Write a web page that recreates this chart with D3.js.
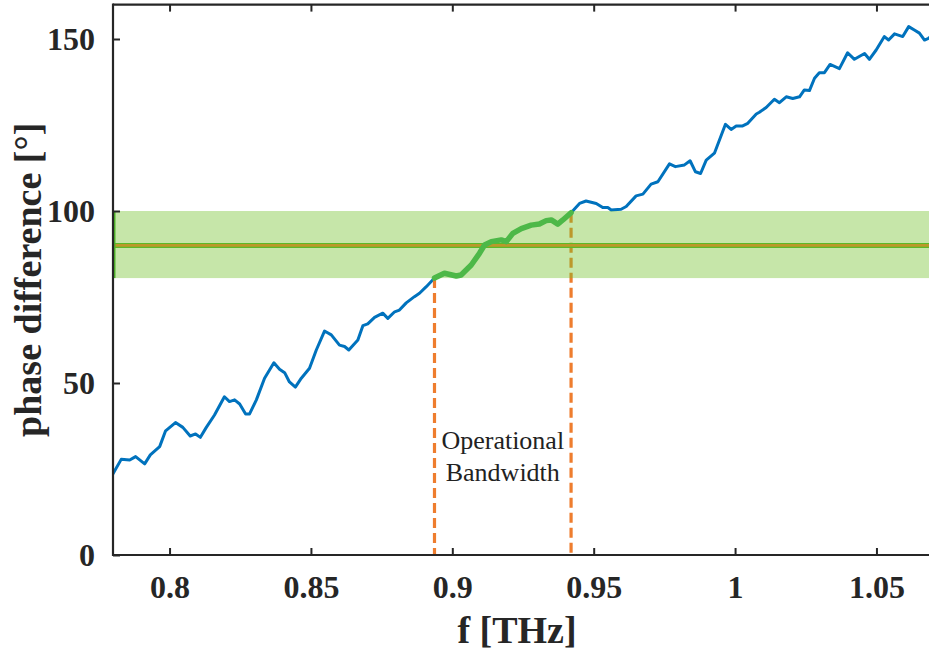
<!DOCTYPE html>
<html>
<head>
<meta charset="utf-8">
<script src="https://cdn.jsdelivr.net/npm/d3@7"></script>
<style>
  html, body { margin: 0; padding: 0; background: #fff; }
  svg { display: block; }
</style>
</head>
<body>
<svg id="chart" width="929" height="654"></svg>
<script>
// Phase difference vs frequency
const freq = [
  0.7798, 0.7829, 0.7859, 0.7880, 0.7912, 0.7932, 0.7965, 0.7986, 0.8021, 0.8047,
  0.8073, 0.8092, 0.8109, 0.8130, 0.8159, 0.8194, 0.8212, 0.8230, 0.8248, 0.8269,
  0.8283, 0.8307, 0.8336, 0.8369, 0.8389, 0.8407, 0.8424, 0.8445, 0.8466, 0.8495,
  0.8519, 0.8548, 0.8572, 0.8601, 0.8619, 0.8634, 0.8666, 0.8684, 0.8701, 0.8725,
  0.8754, 0.8772, 0.8796, 0.8813, 0.8837, 0.8866, 0.8884, 0.8908, 0.8937,
  0.8972, 0.9014, 0.9031, 0.9067, 0.9096, 0.9114, 0.9138, 0.9173, 0.9191, 0.9214,
  0.9244, 0.9279, 0.9308, 0.9332, 0.9350, 0.9373, 0.9391, 0.9420,
  0.9450, 0.9473, 0.9509, 0.9532, 0.9550, 0.9562, 0.9597, 0.9615, 0.9650, 0.9674,
  0.9703, 0.9727, 0.9768, 0.9789, 0.9821, 0.9841, 0.9860, 0.9878, 0.9898, 0.9927,
  0.9966, 0.9986, 1.0004, 1.0025, 1.0045, 1.0075, 1.0086, 1.0110, 1.0139, 1.0157,
  1.0181, 1.0204, 1.0228, 1.0245, 1.0263, 1.0281, 1.0298, 1.0316, 1.0336, 1.0369,
  1.0398, 1.0422, 1.0458, 1.0475, 1.0499, 1.0528, 1.0543, 1.0564, 1.0593, 1.0614,
  1.0634, 1.0652, 1.0670, 1.0684, 1.0700
];
const phase = [
  23.3, 27.8, 27.6, 28.6, 26.5, 29.1, 31.5, 36.1, 38.5, 37.1,
  34.6, 35.2, 34.2, 37.1, 40.7, 46.0, 44.6, 45.1, 43.9, 41.0,
  41.0, 45.1, 51.4, 55.9, 54.0, 53.0, 50.3, 48.8, 51.4, 54.3,
  59.6, 65.1, 64.0, 61.0, 60.6, 59.6, 62.5, 66.7, 67.2, 69.1,
  70.3, 68.8, 70.7, 71.2, 73.3, 75.1, 76.1, 78.0, 80.5,
  81.9, 81.1, 81.4, 84.3, 87.7, 90.1, 91.1, 91.6, 91.1, 93.5,
  94.9, 95.9, 96.2, 97.2, 97.4, 96.2, 97.4, 99.5,
  102.2, 102.9, 102.2, 101.0, 101.0, 100.3, 100.5, 101.3, 104.4, 104.9,
  107.8, 108.5, 113.7, 112.9, 113.4, 114.6, 111.4, 110.9, 114.8, 116.8,
  125.2, 123.7, 124.7, 124.7, 125.5, 128.2, 128.7, 130.1, 132.5, 131.5,
  133.2, 132.7, 133.2, 135.2, 135.0, 138.6, 140.2, 140.2, 142.6, 141.4,
  146.0, 144.1, 145.8, 144.1, 146.8, 150.7, 149.7, 151.5, 150.7, 153.6,
  152.6, 151.7, 149.7, 150.2, 151.2
];

// Operational band limits and target phase
const bandLow = 80.5;
const bandHigh = 100;
const targetPhase = 90;
const bandStart = 0.8937;
const bandEnd = 0.9420;

const xTicks = [0.8, 0.85, 0.9, 0.95, 1, 1.05];
const xTickLabels = ["0.8", "0.85", "0.9", "0.95", "1", "1.05"];
const yTicks = [0, 50, 100, 150];
const yTickLabels = ["0", "50", "100", "150"];

const svg = d3.select("#chart");
const plotLeft = 113, plotRight = 933, plotTop = 4.6, plotBottom = 555;

const x = d3.scaleLinear().domain([0.78, 1.07]).range([plotLeft, plotRight]);
const y = d3.scaleLinear().domain([0, 160]).range([plotBottom, plotTop]);

svg.append("defs").append("clipPath").attr("id", "plotclip")
  .append("rect").attr("x", plotLeft).attr("y", plotTop)
  .attr("width", plotRight - plotLeft).attr("height", plotBottom - plotTop);

const plot = svg.append("g").attr("clip-path", "url(#plotclip)");

const pts = freq.map((f, i) => ({ f, v: phase[i] }));
const line = d3.line().x(d => x(d.f)).y(d => y(d.v)).curve(d3.curveLinear);

// full response curve
plot.append("path").datum(pts)
  .attr("d", line)
  .attr("fill", "none")
  .attr("stroke", "#0072BD")
  .attr("stroke-width", 3)
  .attr("stroke-linejoin", "round");

// vertical markers at the band edges
const valueAt = f => {
  const i = freq.findIndex(v => Math.abs(v - f) < 1e-6);
  return i >= 0 ? phase[i] : bandHigh;
};
plot.selectAll("line.edge").data([bandStart, bandEnd]).enter()
  .append("line").attr("class", "edge")
  .attr("x1", d => x(d)).attr("x2", d => x(d))
  .attr("y1", d => y(Math.min(valueAt(d), bandHigh))).attr("y2", y(0))
  .attr("stroke", "#EE7D2E")
  .attr("stroke-width", 3.2)
  .attr("stroke-dasharray", "10,5");

// target phase line
plot.append("line")
  .attr("x1", x(0.78)).attr("x2", x(1.07))
  .attr("y1", y(targetPhase)).attr("y2", y(targetPhase))
  .attr("stroke", "#4FB52A").attr("stroke-width", 5);
plot.append("line")
  .attr("x1", x(0.78)).attr("x2", x(1.07))
  .attr("y1", y(targetPhase)).attr("y2", y(targetPhase))
  .attr("stroke", "#EE7D2E").attr("stroke-width", 2.6);

// tolerance band
plot.append("rect")
  .attr("x", x(0.78)).attr("width", x(1.07) - x(0.78))
  .attr("y", y(bandHigh)).attr("height", y(bandLow) - y(bandHigh))
  .attr("fill", "rgb(112,192,40)").attr("fill-opacity", 0.4);
plot.append("line")
  .attr("x1", x(0.78) + 1.5).attr("x2", x(0.78) + 1.5)
  .attr("y1", y(bandHigh)).attr("y2", y(bandLow))
  .attr("stroke", "#4FB52A").attr("stroke-width", 2);

// in-band part of the curve
const inBand = pts.filter(d => d.f >= bandStart - 1e-6 && d.f <= bandEnd + 1e-6);
plot.append("path").datum(inBand)
  .attr("d", line)
  .attr("fill", "none")
  .attr("stroke", "#4DB848")
  .attr("stroke-width", 5.5)
  .attr("stroke-linejoin", "round")
  .attr("stroke-linecap", "round");

// label between the markers
const labelX = (x(bandStart) + x(bandEnd)) / 2;
const lab = svg.append("text")
  .attr("text-anchor", "middle")
  .attr("font-family", "'Liberation Serif', 'Times New Roman', serif")
  .attr("font-size", 26)
  .attr("fill", "#222");
lab.append("tspan").attr("x", labelX).attr("y", 449).text("Operational");
lab.append("tspan").attr("x", labelX).attr("y", 481).text("Bandwidth");

// axes frame
const axisColor = "#262626";
svg.append("line").attr("x1", plotLeft).attr("x2", plotRight).attr("y1", plotBottom).attr("y2", plotBottom)
  .attr("stroke", axisColor).attr("stroke-width", 2.2);
svg.append("line").attr("x1", plotLeft).attr("x2", plotRight).attr("y1", plotTop).attr("y2", plotTop)
  .attr("stroke", axisColor).attr("stroke-width", 2.2);
svg.append("line").attr("x1", plotLeft).attr("x2", plotLeft).attr("y1", plotTop - 1).attr("y2", plotBottom + 1)
  .attr("stroke", axisColor).attr("stroke-width", 2.2);
svg.append("line").attr("x1", plotRight).attr("x2", plotRight).attr("y1", plotTop - 1).attr("y2", plotBottom + 1)
  .attr("stroke", axisColor).attr("stroke-width", 2.2);

const tickFont = "'Liberation Serif', 'Times New Roman', serif";

// x axis ticks (inward, mirrored at top)
const xAxis = d3.axisBottom(x).tickValues(xTicks).tickSizeInner(-7).tickSizeOuter(0)
  .tickPadding(20).tickFormat((d, i) => xTickLabels[i]);
const gx = svg.append("g").attr("transform", `translate(0,${plotBottom})`).call(xAxis);
gx.select(".domain").remove();
gx.selectAll(".tick line").attr("stroke", axisColor).attr("stroke-width", 2);
gx.selectAll(".tick text").attr("font-family", tickFont).attr("font-weight", "bold")
  .attr("font-size", 32).attr("fill", "#262626");

const xTop = d3.axisTop(x).tickValues(xTicks).tickSizeInner(-7).tickSizeOuter(0).tickFormat("");
const gxt = svg.append("g").attr("transform", `translate(0,${plotTop})`).call(xTop);
gxt.select(".domain").remove();
gxt.selectAll(".tick line").attr("stroke", axisColor).attr("stroke-width", 2);

// y axis ticks
const yAxis = d3.axisLeft(y).tickValues(yTicks).tickSizeInner(-7).tickSizeOuter(0)
  .tickPadding(18).tickFormat((d, i) => yTickLabels[i]);
const gy = svg.append("g").attr("transform", `translate(${plotLeft},0)`).call(yAxis);
gy.select(".domain").remove();
gy.selectAll(".tick line").attr("stroke", axisColor).attr("stroke-width", 2);
gy.selectAll(".tick text").attr("font-family", tickFont).attr("font-weight", "bold")
  .attr("font-size", 32).attr("fill", "#262626");

// axis titles
svg.append("text")
  .attr("x", (plotLeft + 929) / 2 - 4).attr("y", 643)
  .attr("text-anchor", "middle")
  .attr("font-family", tickFont).attr("font-weight", "bold").attr("font-size", 38)
  .attr("fill", "#262626")
  .text("f [THz]");

svg.append("text")
  .attr("transform", `translate(41,${(plotTop + plotBottom) / 2}) rotate(-90)`)
  .attr("text-anchor", "middle")
  .attr("font-family", tickFont).attr("font-weight", "bold").attr("font-size", 38)
  .attr("fill", "#262626")
  .text("phase difference [°]");
</script>
</body>
</html>
